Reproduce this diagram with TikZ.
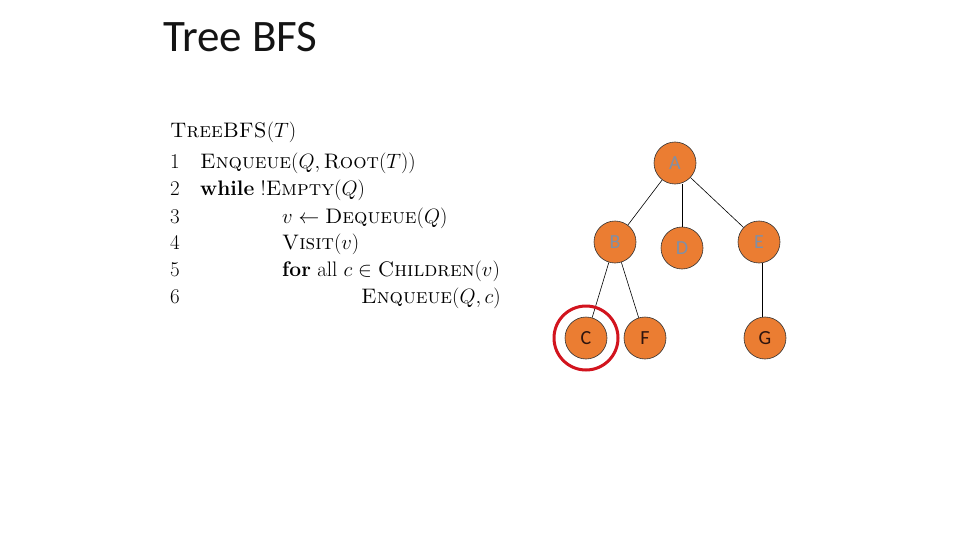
\documentclass[tikz,border=0pt]{standalone}
\usepackage{fontspec}
\newfontfamily\calibri{Carlito}
\definecolor{nodeorange}{RGB}{235,125,50}
\definecolor{lettergray}{RGB}{128,143,165}
\definecolor{letterdark}{RGB}{45,20,15}
\definecolor{ringred}{RGB}{210,20,30}
\definecolor{titlegray}{RGB}{20,20,20}
\begin{document}
\begin{tikzpicture}[x=1pt,y=-1pt,
  treenode/.style={circle,minimum size=42pt,inner sep=0pt,fill=nodeorange,draw=black!80,line width=0.6pt,font=\calibri\fontsize{20}{20}\selectfont},
  graytext/.style={text=lettergray},
  darktext/.style={text=letterdark},
  edge/.style={draw=black,line width=0.6pt},
  code/.style={anchor=base west,inner sep=0pt,font=\fontsize{21}{25}\selectfont}]
\useasboundingbox (0,0) rectangle (960,540);
\fill[white] (0,0) rectangle (960,540);
% title
\node[anchor=base west,inner sep=0pt,text=titlegray,font=\calibri\fontsize{45}{45}\selectfont] (title) at (163,52) {Tree BFS};
% pseudocode
\node[code] (c0) at (170,138) {\textsc{TreeBFS}$(T)$};
\node[code] (n1) at (170,169) {1};
\node[code] (n2) at (170,196) {2};
\node[code] (n3) at (170,223) {3};
\node[code] (n4) at (170,249) {4};
\node[code] (n5) at (170,276) {5};
\node[code] (n6) at (170,303) {6};
\node[code] (l1) at (200,169) {\textsc{Enqueue}$(Q, \mbox{\textsc{Root}}(T))$};
\node[code] (l2) at (200,196) {\textbf{while} !\textsc{Empty}$(Q)$};
\node[code] (l3) at (282,223) {$v \gets \mbox{\textsc{Dequeue}}(Q)$};
\node[code] (l4) at (282,249) {\textsc{Visit}$(v)$};
\node[code] (l5) at (282,276) {\textbf{for} all $c \in \mbox{\textsc{Children}}(v)$};
\node[code] (l6) at (361,303) {\textsc{Enqueue}$(Q, c)$};
% tree
\node[treenode,graytext] (A) at (675,163) {A};
\node[treenode,graytext] (B) at (615,242) {B};
\node[treenode,graytext] (D) at (682,248) {D};
\node[treenode,graytext] (E) at (759,242) {E};
\node[treenode,darktext] (C) at (586,338) {C};
\node[treenode,darktext] (F) at (645,338) {F};
\node[treenode,darktext] (G) at (765,338) {G};
\draw[edge] (A) -- (B);
\draw[edge] (D.north |- A.south) -- (D.north);
\draw[edge] (A) -- (E);
\draw[edge] (B) -- (C);
\draw[edge] (B) -- (F);
\draw[edge] ([xshift=3pt]E.south) -- ([xshift=-3pt]G.north);
\node[circle,draw=ringred,line width=3pt,minimum size=64pt,inner sep=0pt] (ring) at (C) {};
\end{tikzpicture}
\end{document}
